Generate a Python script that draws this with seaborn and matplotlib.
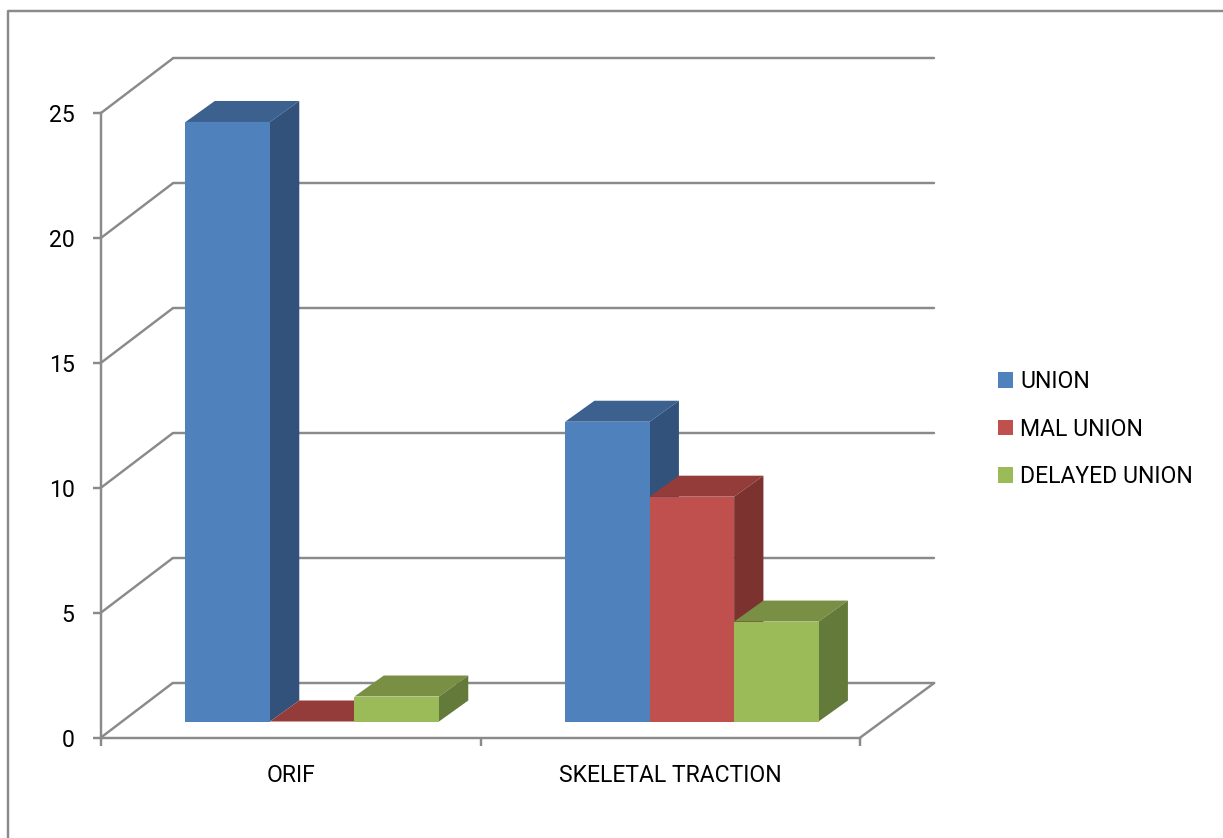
import matplotlib
matplotlib.use("Agg")
import matplotlib.pyplot as plt
from matplotlib.lines import Line2D
from matplotlib.patches import Polygon
import pandas as pd
import seaborn as sns

categories = ["ORIF", "SKELETAL TRACTION"]
series_names = ["UNION", "MAL UNION", "DELAYED UNION"]
union = [24, 12]
mal_union = [0, 9]
delayed_union = [1, 4]
y_ticks = [0, 5, 10, 15, 20, 25]

front_colors = ["#4F81BD", "#C0504D", "#9BBB59"]
top_colors = ["#3C618F", "#933C3A", "#788F44"]
side_colors = ["#32527C", "#7C322F", "#647A3A"]
GRAY = "#8A8A8A"

W, H = 1223, 838
sns.set_theme(style="white")
plt.rcParams["font.family"] = ["Roboto", "DejaVu Sans"]

df = pd.DataFrame({
    "category": categories * 3,
    "series": [s for s in series_names for _ in categories],
    "value": union + mal_union + delayed_union,
})

fig = plt.figure(figsize=(W / 100, H / 100), dpi=100, facecolor="white")
L, R, B, T = 101, 860.3, 737.5, 113
ax = fig.add_axes([L / W, 1 - B / H, (R - L) / W, (B - T) / H])

sns.barplot(data=df, x="category", y="value", hue="series", order=categories,
            hue_order=series_names, palette=front_colors, saturation=1,
            width=0.6677, gap=0, ax=ax, errorbar=None, linewidth=0)
ax.set_xlim(-0.5, 1.5)
ax.set_ylim(0, 25)

px_x = (R - L) / 2
px_y = (B - T) / 25

# pseudo-3D geometry expressed as offsets in data units
wall_dxl, wall_dxr, wall_dy = 71.7 / px_x, 73.9 / px_x, 54.5 / px_y
bar_ox, bar_oy = 21.4 / px_x, 16.0 / px_y
bar_dx, bar_dy = 29.3 / px_x, 21.0 / px_y

lw = 1.75
line_kw = dict(color=GRAY, lw=lw, clip_on=False, zorder=1, solid_capstyle="round")
for v in y_ticks:
    ax.plot([-0.5, -0.5 + wall_dxl], [v, v + wall_dy], **line_kw)
    ax.plot([-0.5 + wall_dxl, 1.5 + wall_dxr], [v + wall_dy, v + wall_dy], **line_kw)
ax.plot([1.5, 1.5 + wall_dxr], [0, wall_dy], **line_kw)

handles, labels = ax.get_legend_handles_labels()
if ax.get_legend() is not None:
    ax.get_legend().remove()

for i, container in enumerate(ax.containers):
    z = 3 + i
    for bar in container:
        x0 = bar.get_x() + bar_ox
        y0 = bar_oy
        w = bar.get_width()
        h = bar.get_height()
        bar.set_x(x0)
        bar.set_y(y0)
        bar.set_clip_on(False)
        bar.set_zorder(z + 0.2)
        top = y0 + h
        ax.add_patch(Polygon([(x0, top), (x0 + w, top), (x0 + w + bar_dx, top + bar_dy),
                              (x0 + bar_dx, top + bar_dy)], closed=True,
                             facecolor=top_colors[i], lw=0, clip_on=False, zorder=z))
        if h > 0:
            ax.add_patch(Polygon([(x0 + w, y0), (x0 + w + bar_dx, y0 + bar_dy),
                                  (x0 + w + bar_dx, top + bar_dy), (x0 + w, top)], closed=True,
                                 facecolor=side_colors[i], lw=0, clip_on=False, zorder=z))

for s in ["top", "right"]:
    ax.spines[s].set_visible(False)
for s in ["left", "bottom"]:
    ax.spines[s].set_color(GRAY)
    ax.spines[s].set_linewidth(lw)
    ax.spines[s].set_zorder(2)

fs = 16.6
ax.set_xlabel("")
ax.set_ylabel("")
ax.set_yticks(y_ticks)
ax.set_yticklabels([str(v) for v in y_ticks], fontsize=fs, color="black")
ax.tick_params(axis="y", length=6, width=lw, color=GRAY, left=True, pad=13)
ax.set_xticks([-0.5, 0.5, 1.5])
ax.set_xticklabels([])
ax.tick_params(axis="x", which="major", length=6, width=lw, color=GRAY, bottom=True)
ax.set_xticks([0, 1], minor=True)
ax.set_xticklabels(categories, minor=True, fontsize=fs, color="black")
ax.tick_params(axis="x", which="minor", length=0, pad=19, bottom=False)

fig.legend(handles, labels, loc="center left", bbox_to_anchor=(998 / W, 1 - 429 / H),
           frameon=False, fontsize=fs, handlelength=0.66, handleheight=0.66,
           handletextpad=0.3, labelspacing=1.07, borderpad=0, borderaxespad=0,
           labelcolor="black")

# outer chart frame
fig.add_artist(Line2D([8 / W, 8 / W, 1], [0, 1 - 11 / H, 1 - 11 / H],
                      color=GRAY, lw=1.75, transform=fig.transFigure))

fig.savefig("out.png", dpi=100, facecolor="white")
